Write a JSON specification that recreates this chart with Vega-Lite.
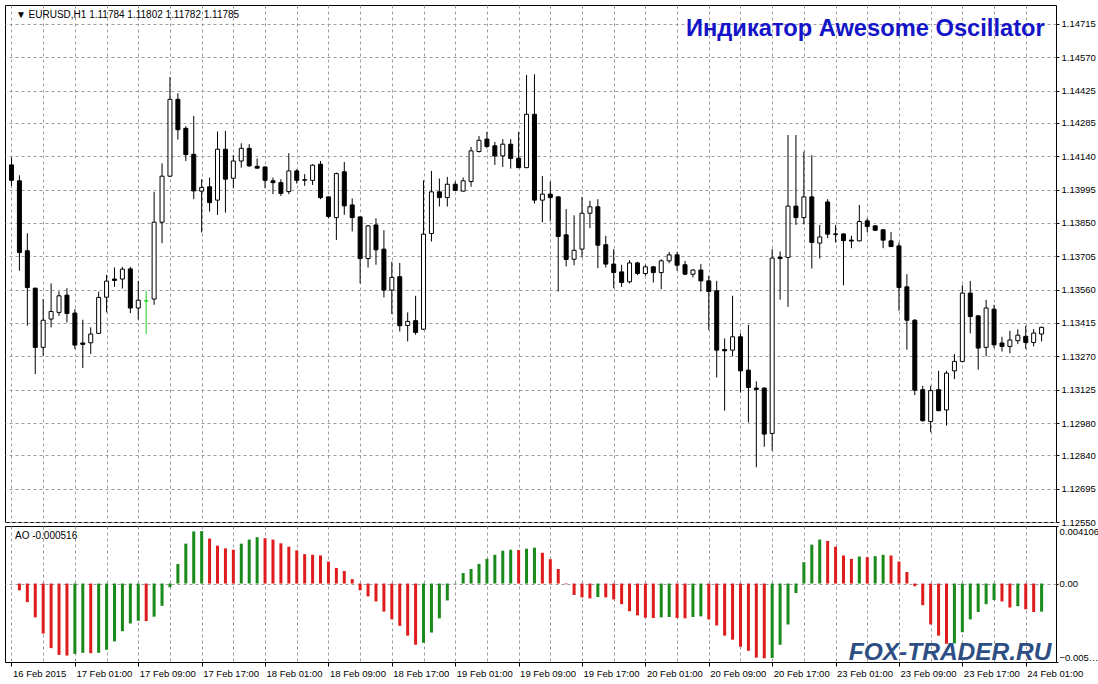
{
  "$schema": "https://vega.github.io/schema/vega-lite/v6.json",
  "background": "white",
  "padding": {"left": 4, "top": 4, "right": 0, "bottom": 0},
  "spacing": 4,
  "bounds": "flush",
  "resolve": {"scale": {"color": "independent", "fill": "independent", "stroke": "independent"}},
  "config": {
    "view": {"stroke": "black", "strokeWidth": 1},
    "font": "Liberation Sans",
    "axis": {"labelFont": "Liberation Sans", "labelFontSize": 9.5, "labelColor": "black", "tickColor": "black", "gridColor": "#9c9c9c", "gridDash": [3, 3], "gridOpacity": 1, "domain": false, "title": null, "labelOverlap": false, "tickCount": 200}
  },
  "datasets": {
    "bars": [
      {"i":0,"o":1.14102,"h":1.14134,"l":1.14011,"c":1.14035,"k":"down","ao":null,"d":null},
      {"i":1,"o":1.14033,"h":1.14057,"l":1.13642,"c":1.13721,"k":"down","ao":-0.000483,"d":"down"},
      {"i":2,"o":1.13729,"h":1.13805,"l":1.13403,"c":1.13569,"k":"down","ao":-0.001327,"d":"down"},
      {"i":3,"o":1.13566,"h":1.13569,"l":1.13193,"c":1.13309,"k":"down","ao":-0.002413,"d":"down"},
      {"i":4,"o":1.13309,"h":1.13519,"l":1.13273,"c":1.13427,"k":"up","ao":-0.003571,"d":"down"},
      {"i":5,"o":1.13432,"h":1.13587,"l":1.13396,"c":1.13465,"k":"up","ao":-0.004609,"d":"down"},
      {"i":6,"o":1.13461,"h":1.13552,"l":1.13446,"c":1.13533,"k":"up","ao":-0.005091,"d":"down"},
      {"i":7,"o":1.13536,"h":1.13566,"l":1.13417,"c":1.13456,"k":"down","ao":-0.00514,"d":"down"},
      {"i":8,"o":1.13458,"h":1.13475,"l":1.13302,"c":1.13319,"k":"down","ao":-0.005019,"d":"up"},
      {"i":9,"o":1.13328,"h":1.13429,"l":1.13219,"c":1.13322,"k":"down","ao":-0.004947,"d":"up"},
      {"i":10,"o":1.13329,"h":1.13396,"l":1.1328,"c":1.13367,"k":"up","ao":-0.004971,"d":"down"},
      {"i":11,"o":1.1337,"h":1.13551,"l":1.13367,"c":1.13526,"k":"up","ao":-0.004947,"d":"up"},
      {"i":12,"o":1.13527,"h":1.13624,"l":1.13461,"c":1.13597,"k":"up","ao":-0.004729,"d":"up"},
      {"i":13,"o":1.13606,"h":1.13656,"l":1.13572,"c":1.136,"k":"down","ao":-0.004126,"d":"up"},
      {"i":14,"o":1.13606,"h":1.13659,"l":1.13565,"c":1.13649,"k":"up","ao":-0.003402,"d":"up"},
      {"i":15,"o":1.1365,"h":1.13659,"l":1.13458,"c":1.1348,"k":"down","ao":-0.002847,"d":"up"},
      {"i":16,"o":1.1348,"h":1.13598,"l":1.1343,"c":1.13514,"k":"up","ao":-0.002654,"d":"up"},
      {"i":17,"o":1.13511,"h":1.13555,"l":1.13367,"c":1.13511,"k":"flat","ao":-0.002678,"d":"down"},
      {"i":18,"o":1.13519,"h":1.13985,"l":1.13494,"c":1.13853,"k":"up","ao":-0.002365,"d":"up"},
      {"i":19,"o":1.13853,"h":1.14109,"l":1.13762,"c":1.14053,"k":"up","ao":-0.001593,"d":"up"},
      {"i":20,"o":1.14053,"h":1.14484,"l":1.1405,"c":1.14387,"k":"up","ao":-0.000265,"d":"up"},
      {"i":21,"o":1.14387,"h":1.14413,"l":1.14212,"c":1.14255,"k":"down","ao":0.0014,"d":"up"},
      {"i":22,"o":1.14261,"h":1.1427,"l":1.14119,"c":1.14147,"k":"down","ao":0.002847,"d":"up"},
      {"i":23,"o":1.14148,"h":1.14315,"l":1.13953,"c":1.13989,"k":"down","ao":0.003716,"d":"up"},
      {"i":24,"o":1.13988,"h":1.1404,"l":1.13808,"c":1.14004,"k":"up","ao":0.00374,"d":"up"},
      {"i":25,"o":1.14007,"h":1.14047,"l":1.13899,"c":1.13938,"k":"down","ao":0.003209,"d":"down"},
      {"i":26,"o":1.13949,"h":1.14247,"l":1.13885,"c":1.1417,"k":"up","ao":0.002703,"d":"down"},
      {"i":27,"o":1.1417,"h":1.1425,"l":1.13895,"c":1.1404,"k":"down","ao":0.00251,"d":"down"},
      {"i":28,"o":1.14044,"h":1.14144,"l":1.14001,"c":1.14119,"k":"up","ao":0.002413,"d":"down"},
      {"i":29,"o":1.14119,"h":1.14196,"l":1.1409,"c":1.14174,"k":"up","ao":0.002847,"d":"up"},
      {"i":30,"o":1.14174,"h":1.14192,"l":1.14093,"c":1.14098,"k":"down","ao":0.003137,"d":"up"},
      {"i":31,"o":1.14096,"h":1.1413,"l":1.14086,"c":1.14088,"k":"down","ao":0.003306,"d":"up"},
      {"i":32,"o":1.14093,"h":1.14096,"l":1.14001,"c":1.14035,"k":"down","ao":0.003233,"d":"down"},
      {"i":33,"o":1.14033,"h":1.14047,"l":1.13975,"c":1.14025,"k":"down","ao":0.003137,"d":"down"},
      {"i":34,"o":1.14025,"h":1.1404,"l":1.13967,"c":1.13978,"k":"down","ao":0.002871,"d":"down"},
      {"i":35,"o":1.13986,"h":1.14153,"l":1.13975,"c":1.14076,"k":"up","ao":0.00263,"d":"down"},
      {"i":36,"o":1.14076,"h":1.14083,"l":1.14021,"c":1.14035,"k":"down","ao":0.002365,"d":"down"},
      {"i":37,"o":1.14035,"h":1.14062,"l":1.14011,"c":1.14038,"k":"up","ao":0.002099,"d":"down"},
      {"i":38,"o":1.14035,"h":1.14105,"l":1.14015,"c":1.14101,"k":"up","ao":0.002051,"d":"down"},
      {"i":39,"o":1.14105,"h":1.14119,"l":1.13953,"c":1.1396,"k":"down","ao":0.002003,"d":"down"},
      {"i":40,"o":1.13963,"h":1.13965,"l":1.1387,"c":1.13878,"k":"down","ao":0.001568,"d":"down"},
      {"i":41,"o":1.13873,"h":1.14069,"l":1.13776,"c":1.14064,"k":"up","ao":0.00111,"d":"down"},
      {"i":42,"o":1.14072,"h":1.14115,"l":1.13885,"c":1.13924,"k":"down","ao":0.000893,"d":"down"},
      {"i":43,"o":1.13928,"h":1.13956,"l":1.13813,"c":1.13873,"k":"down","ao":0.000314,"d":"down"},
      {"i":44,"o":1.13876,"h":1.13878,"l":1.13587,"c":1.13695,"k":"down","ao":-0.000483,"d":"down"},
      {"i":45,"o":1.13695,"h":1.13841,"l":1.13656,"c":1.13837,"k":"up","ao":-0.000917,"d":"down"},
      {"i":46,"o":1.13841,"h":1.1387,"l":1.13668,"c":1.13733,"k":"down","ao":-0.001279,"d":"down"},
      {"i":47,"o":1.13736,"h":1.13818,"l":1.13526,"c":1.13558,"k":"down","ao":-0.002003,"d":"down"},
      {"i":48,"o":1.13558,"h":1.13681,"l":1.13454,"c":1.13613,"k":"up","ao":-0.002558,"d":"down"},
      {"i":49,"o":1.13616,"h":1.13676,"l":1.13378,"c":1.13403,"k":"down","ao":-0.003016,"d":"down"},
      {"i":50,"o":1.13404,"h":1.13461,"l":1.13335,"c":1.13422,"k":"up","ao":-0.003716,"d":"down"},
      {"i":51,"o":1.13425,"h":1.13533,"l":1.13364,"c":1.13374,"k":"down","ao":-0.004368,"d":"down"},
      {"i":52,"o":1.13388,"h":1.14035,"l":1.13384,"c":1.13801,"k":"up","ao":-0.004223,"d":"up"},
      {"i":53,"o":1.13804,"h":1.14076,"l":1.13769,"c":1.13985,"k":"up","ao":-0.003499,"d":"up"},
      {"i":54,"o":1.13985,"h":1.14043,"l":1.13921,"c":1.1396,"k":"down","ao":-0.002485,"d":"up"},
      {"i":55,"o":1.1396,"h":1.1405,"l":1.13921,"c":1.14018,"k":"up","ao":-0.001207,"d":"up"},
      {"i":56,"o":1.14018,"h":1.1403,"l":1.13989,"c":1.13991,"k":"down","ao":0.000024,"d":"up"},
      {"i":57,"o":1.13988,"h":1.14047,"l":1.13986,"c":1.14033,"k":"up","ao":0.000748,"d":"up"},
      {"i":58,"o":1.1403,"h":1.1418,"l":1.14007,"c":1.14163,"k":"up","ao":0.001038,"d":"up"},
      {"i":59,"o":1.1416,"h":1.14228,"l":1.14156,"c":1.14209,"k":"up","ao":0.0014,"d":"up"},
      {"i":60,"o":1.14214,"h":1.14245,"l":1.14174,"c":1.14182,"k":"down","ao":0.001761,"d":"up"},
      {"i":61,"o":1.14185,"h":1.14202,"l":1.14102,"c":1.14141,"k":"down","ao":0.002051,"d":"up"},
      {"i":62,"o":1.14141,"h":1.14214,"l":1.14093,"c":1.14192,"k":"up","ao":0.002341,"d":"up"},
      {"i":63,"o":1.14192,"h":1.14214,"l":1.14086,"c":1.1413,"k":"down","ao":0.002413,"d":"up"},
      {"i":64,"o":1.14131,"h":1.14245,"l":1.14088,"c":1.1409,"k":"down","ao":0.002389,"d":"down"},
      {"i":65,"o":1.1409,"h":1.14493,"l":1.14088,"c":1.14322,"k":"up","ao":0.002485,"d":"up"},
      {"i":66,"o":1.14322,"h":1.14496,"l":1.13934,"c":1.13949,"k":"down","ao":0.002558,"d":"up"},
      {"i":67,"o":1.13949,"h":1.14054,"l":1.13852,"c":1.13975,"k":"up","ao":0.002196,"d":"down"},
      {"i":68,"o":1.13975,"h":1.1403,"l":1.13859,"c":1.1396,"k":"down","ao":0.001737,"d":"down"},
      {"i":69,"o":1.13963,"h":1.13966,"l":1.13552,"c":1.13791,"k":"down","ao":0.001038,"d":"down"},
      {"i":70,"o":1.13798,"h":1.1391,"l":1.13661,"c":1.13691,"k":"down","ao":-0.000048,"d":"down"},
      {"i":71,"o":1.13692,"h":1.13883,"l":1.13666,"c":1.13731,"k":"up","ao":-0.00082,"d":"down"},
      {"i":72,"o":1.13736,"h":1.13963,"l":1.137,"c":1.13892,"k":"up","ao":-0.000989,"d":"down"},
      {"i":73,"o":1.13892,"h":1.13946,"l":1.13827,"c":1.1392,"k":"up","ao":-0.001062,"d":"down"},
      {"i":74,"o":1.1392,"h":1.13953,"l":1.13653,"c":1.13753,"k":"down","ao":-0.000965,"d":"up"},
      {"i":75,"o":1.13755,"h":1.13794,"l":1.13656,"c":1.13671,"k":"down","ao":-0.000989,"d":"down"},
      {"i":76,"o":1.13671,"h":1.13736,"l":1.13566,"c":1.13634,"k":"down","ao":-0.001134,"d":"down"},
      {"i":77,"o":1.13637,"h":1.13668,"l":1.13572,"c":1.13591,"k":"down","ao":-0.001472,"d":"down"},
      {"i":78,"o":1.13594,"h":1.13688,"l":1.13587,"c":1.13676,"k":"up","ao":-0.001979,"d":"down"},
      {"i":79,"o":1.13676,"h":1.13681,"l":1.13623,"c":1.1363,"k":"down","ao":-0.002268,"d":"down"},
      {"i":80,"o":1.1363,"h":1.13668,"l":1.1362,"c":1.13659,"k":"up","ao":-0.002437,"d":"down"},
      {"i":81,"o":1.13659,"h":1.13663,"l":1.13591,"c":1.13634,"k":"down","ao":-0.002461,"d":"down"},
      {"i":82,"o":1.13634,"h":1.13692,"l":1.13562,"c":1.13685,"k":"up","ao":-0.002413,"d":"up"},
      {"i":83,"o":1.13685,"h":1.13724,"l":1.13675,"c":1.13711,"k":"up","ao":-0.002389,"d":"up"},
      {"i":84,"o":1.13711,"h":1.13724,"l":1.13642,"c":1.13666,"k":"down","ao":-0.002461,"d":"down"},
      {"i":85,"o":1.13668,"h":1.13685,"l":1.13623,"c":1.13627,"k":"down","ao":-0.002485,"d":"down"},
      {"i":86,"o":1.13627,"h":1.13649,"l":1.13613,"c":1.13645,"k":"up","ao":-0.002389,"d":"up"},
      {"i":87,"o":1.13645,"h":1.13671,"l":1.13552,"c":1.13598,"k":"down","ao":-0.002341,"d":"up"},
      {"i":88,"o":1.13598,"h":1.1362,"l":1.13384,"c":1.13552,"k":"down","ao":-0.002558,"d":"down"},
      {"i":89,"o":1.13555,"h":1.13598,"l":1.13178,"c":1.13297,"k":"down","ao":-0.002992,"d":"down"},
      {"i":90,"o":1.133,"h":1.13348,"l":1.13034,"c":1.13294,"k":"down","ao":-0.003716,"d":"down"},
      {"i":91,"o":1.13297,"h":1.13533,"l":1.1327,"c":1.13355,"k":"up","ao":-0.004006,"d":"down"},
      {"i":92,"o":1.13355,"h":1.1337,"l":1.13113,"c":1.13207,"k":"down","ao":-0.004512,"d":"down"},
      {"i":93,"o":1.1321,"h":1.13407,"l":1.12983,"c":1.13135,"k":"down","ao":-0.004802,"d":"down"},
      {"i":94,"o":1.13132,"h":1.13161,"l":1.12788,"c":1.13126,"k":"down","ao":-0.005285,"d":"down"},
      {"i":95,"o":1.13132,"h":1.13135,"l":1.12877,"c":1.12932,"k":"down","ao":-0.005333,"d":"down"},
      {"i":96,"o":1.12935,"h":1.13736,"l":1.1286,"c":1.13697,"k":"up","ao":-0.005309,"d":"up"},
      {"i":97,"o":1.13701,"h":1.13726,"l":1.13516,"c":1.13695,"k":"down","ao":-0.004368,"d":"up"},
      {"i":98,"o":1.137,"h":1.14232,"l":1.13485,"c":1.13923,"k":"up","ao":-0.00292,"d":"up"},
      {"i":99,"o":1.13923,"h":1.14232,"l":1.13841,"c":1.13873,"k":"down","ao":-0.000676,"d":"up"},
      {"i":100,"o":1.13873,"h":1.1416,"l":1.13844,"c":1.13963,"k":"up","ao":0.00152,"d":"up"},
      {"i":101,"o":1.13963,"h":1.14144,"l":1.13652,"c":1.13765,"k":"down","ao":0.002775,"d":"up"},
      {"i":102,"o":1.13762,"h":1.13841,"l":1.13695,"c":1.13789,"k":"up","ao":0.003137,"d":"up"},
      {"i":103,"o":1.13941,"h":1.13953,"l":1.13784,"c":1.13801,"k":"down","ao":0.00304,"d":"down"},
      {"i":104,"o":1.13802,"h":1.13841,"l":1.13765,"c":1.138,"k":"down","ao":0.00263,"d":"down"},
      {"i":105,"o":1.13802,"h":1.13805,"l":1.13579,"c":1.13773,"k":"down","ao":0.002003,"d":"down"},
      {"i":106,"o":1.13775,"h":1.13794,"l":1.1374,"c":1.13771,"k":"down","ao":0.001761,"d":"down"},
      {"i":107,"o":1.13772,"h":1.13928,"l":1.13769,"c":1.13856,"k":"up","ao":0.00193,"d":"up"},
      {"i":108,"o":1.13859,"h":1.1387,"l":1.13808,"c":1.13834,"k":"down","ao":0.001882,"d":"down"},
      {"i":109,"o":1.13837,"h":1.1384,"l":1.13815,"c":1.13818,"k":"down","ao":0.001955,"d":"up"},
      {"i":110,"o":1.1382,"h":1.13823,"l":1.1374,"c":1.13775,"k":"down","ao":0.002051,"d":"up"},
      {"i":111,"o":1.13772,"h":1.13811,"l":1.13746,"c":1.13747,"k":"down","ao":0.002003,"d":"down"},
      {"i":112,"o":1.1375,"h":1.13765,"l":1.13468,"c":1.13569,"k":"down","ao":0.001568,"d":"down"},
      {"i":113,"o":1.13572,"h":1.13627,"l":1.13299,"c":1.13427,"k":"down","ao":0.00082,"d":"down"},
      {"i":114,"o":1.13427,"h":1.13432,"l":1.13102,"c":1.13123,"k":"down","ao":-0.000193,"d":"down"},
      {"i":115,"o":1.13125,"h":1.13142,"l":1.12987,"c":1.1299,"k":"down","ao":-0.001544,"d":"down"},
      {"i":116,"o":1.12987,"h":1.13142,"l":1.1294,"c":1.13121,"k":"up","ao":-0.00292,"d":"down"},
      {"i":117,"o":1.13125,"h":1.13207,"l":1.13031,"c":1.13034,"k":"down","ao":-0.003716,"d":"down"},
      {"i":118,"o":1.13037,"h":1.13207,"l":1.12969,"c":1.13197,"k":"up","ao":-0.004295,"d":"down"},
      {"i":119,"o":1.13207,"h":1.1328,"l":1.13171,"c":1.13248,"k":"up","ao":-0.004271,"d":"up"},
      {"i":120,"o":1.13248,"h":1.13579,"l":1.13244,"c":1.13545,"k":"up","ao":-0.003475,"d":"up"},
      {"i":121,"o":1.13545,"h":1.13598,"l":1.1337,"c":1.13443,"k":"down","ao":-0.002558,"d":"up"},
      {"i":122,"o":1.13446,"h":1.13449,"l":1.13212,"c":1.13306,"k":"down","ao":-0.002027,"d":"up"},
      {"i":123,"o":1.13309,"h":1.13516,"l":1.1327,"c":1.1348,"k":"up","ao":-0.001472,"d":"up"},
      {"i":124,"o":1.13475,"h":1.13494,"l":1.13306,"c":1.1332,"k":"down","ao":-0.001182,"d":"up"},
      {"i":125,"o":1.13328,"h":1.13355,"l":1.13291,"c":1.13313,"k":"down","ao":-0.001279,"d":"down"},
      {"i":126,"o":1.13313,"h":1.13381,"l":1.13283,"c":1.13341,"k":"up","ao":-0.001713,"d":"down"},
      {"i":127,"o":1.13338,"h":1.13388,"l":1.13323,"c":1.13362,"k":"up","ao":-0.001617,"d":"up"},
      {"i":128,"o":1.13357,"h":1.13403,"l":1.13302,"c":1.1333,"k":"down","ao":-0.001834,"d":"down"},
      {"i":129,"o":1.1333,"h":1.13388,"l":1.13313,"c":1.13371,"k":"up","ao":-0.002027,"d":"down"},
      {"i":130,"o":1.13367,"h":1.13399,"l":1.13335,"c":1.13396,"k":"up","ao":-0.002003,"d":"up"}
    ]
  },
  "vconcat": [
    {
      "width": 1051,
      "height": 517,
      "layer": [
        {
          "data": {"name": "bars"},
          "mark": {"type": "rule", "strokeWidth": 1},
          "encoding": {
            "x": {"field": "i", "type": "quantitative", "scale": {"domain": [-0.1875, 131.1875], "nice": false, "zero": false},
                  "axis": {"values": [0,4,8,12,16,20,24,28,32,36,40,44,48,52,56,60,64,68,72,76,80,84,88,92,96,100,104,108,112,116,120,124,128], "tickCount": 200, "labels": false, "ticks": false, "domain": false, "grid": true, "title": null}},
            "y": {"field": "l", "type": "quantitative", "scale": {"domain": [1.1255, 1.14797], "nice": false, "zero": false},
                  "axis": {"orient": "right", "values": [1.14715,1.1457,1.14425,1.14285,1.1414,1.13995,1.1385,1.13705,1.1356,1.13415,1.1327,1.13125,1.1298,1.1284,1.12695,1.1255], "tickCount": 200, "format": ".5f", "grid": true, "tickSize": 3, "labelPadding": 2, "labelOverlap": false, "title": null}},
            "y2": {"field": "h"},
            "color": {"field": "k", "type": "nominal", "scale": {"domain": ["up", "down", "flat"], "range": ["black", "black", "#22cc22"]}, "legend": null}
          }
        },
        {
          "data": {"name": "bars"},
          "mark": {"type": "bar", "width": 4, "strokeWidth": 1},
          "encoding": {
            "x": {"field": "i", "type": "quantitative"},
            "y": {"field": "o", "type": "quantitative"},
            "y2": {"field": "c"},
            "fill": {"field": "k", "type": "nominal", "scale": {"domain": ["up", "down", "flat"], "range": ["white", "black", "#22cc22"]}, "legend": null},
            "stroke": {"field": "k", "type": "nominal", "scale": {"domain": ["up", "down", "flat"], "range": ["black", "black", "#22cc22"]}, "legend": null}
          }
        },
        {
          "data": {"values": [{"header": "▼ EURUSD,H1  1.11784 1.11802 1.11782 1.11785"}]},
          "mark": {"type": "text", "align": "left", "baseline": "alphabetic", "font": "Liberation Sans", "fontSize": 10, "color": "black"},
          "encoding": {
            "x": {"datum": 0.56},
            "y": {"datum": 1.14739},
            "text": {"field": "header", "type": "nominal"}
          }
        },
        {
          "data": {"values": [{"title": "Индикатор Awesome Oscillator"}]},
          "mark": {"type": "text", "align": "right", "baseline": "alphabetic", "font": "Liberation Sans", "fontSize": 23.7, "fontWeight": "bold", "color": "#1414c8"},
          "encoding": {
            "x": {"datum": 130.4},
            "y": {"datum": 1.14662},
            "text": {"field": "title", "type": "nominal"}
          }
        }
      ]
    },
    {
      "width": 1051,
      "height": 136,
      "layer": [
        {
          "data": {"name": "bars"},
          "transform": [{"filter": "isValid(datum.ao)"}],
          "mark": {"type": "bar", "width": 3},
          "encoding": {
            "x": {"field": "i", "type": "quantitative", "scale": {"domain": [-0.1875, 131.1875], "nice": false, "zero": false},
                  "axis": {"values": [0,4,8,12,16,20,24,28,32,36,40,44,48,52,56,60,64,68,72,76,80,84,88,92,96,100,104,108,112,116,120,124,128], "tickCount": 200,
                           "grid": true, "domain": false, "tickSize": 4,
                           "tickOpacity": {"condition": {"test": "datum.value % 8 === 0", "value": 1}, "value": 0},
                           "labelExpr": "datum.value % 8 === 0 ? ['16 Feb 2015','17 Feb 01:00','17 Feb 09:00','17 Feb 17:00','18 Feb 01:00','18 Feb 09:00','18 Feb 17:00','19 Feb 01:00','19 Feb 09:00','19 Feb 17:00','20 Feb 01:00','20 Feb 09:00','20 Feb 17:00','23 Feb 01:00','23 Feb 09:00','23 Feb 17:00','24 Feb 01:00'][datum.value / 8] : ''",
                           "labelAlign": "left", "labelFlush": false, "labelOverlap": false, "labelPadding": 2, "labelOffset": 1, "title": null}},
            "y": {"field": "ao", "type": "quantitative", "scale": {"domain": [-0.005599, 0.004106], "nice": false, "zero": false},
                  "axis": {"orient": "right", "values": [-0.005599, 0, 0.004106], "tickCount": 200, "labelExpr": "datum.value === 0 ? '0.00' : format(datum.value, '.6f')",
                           "grid": true, "gridOpacity": {"condition": {"test": "datum.value === 0", "value": 1}, "value": 0},
                           "labelFlush": true, "labelLimit": 40, "tickSize": 2, "labelPadding": 1, "title": null}},
            "y2": {"datum": 0},
            "color": {"field": "d", "type": "nominal", "scale": {"domain": ["up", "down"], "range": ["#1a8a1a", "#e01b1b"]}, "legend": null}
          }
        },
        {
          "data": {"values": [{"label": "AO -0.000516"}]},
          "mark": {"type": "text", "align": "left", "baseline": "alphabetic", "font": "Liberation Sans", "fontSize": 10, "color": "black"},
          "encoding": {
            "x": {"datum": 0.44},
            "y": {"datum": 0.003178},
            "text": {"field": "label", "type": "nominal"}
          }
        },
        {
          "data": {"values": [{"site": "FOX-TRADER.RU"}]},
          "mark": {"type": "text", "align": "right", "baseline": "alphabetic", "font": "Liberation Sans", "fontSize": 24.5, "fontStyle": "italic", "fontWeight": "bold", "color": "#2d4e82"},
          "encoding": {
            "x": {"datum": 131.25},
            "y": {"datum": -0.00545},
            "text": {"field": "site", "type": "nominal"}
          }
        }
      ]
    }
  ]
}
